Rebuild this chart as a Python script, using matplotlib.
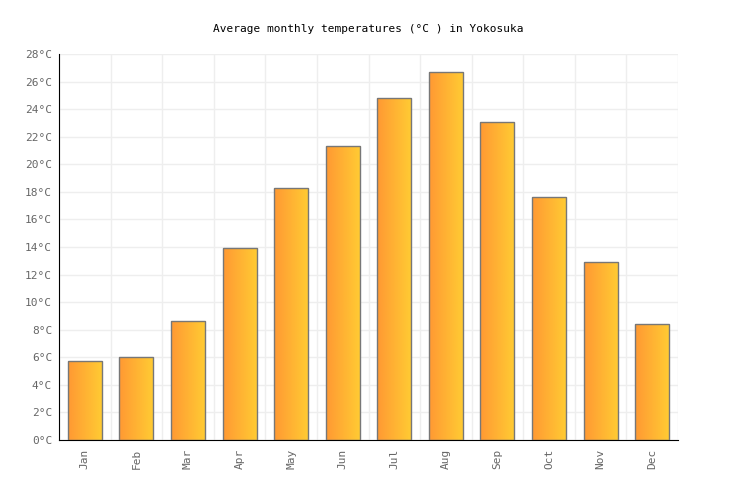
import numpy as np
import matplotlib.pyplot as plt
from matplotlib.colors import LinearSegmentedColormap

months = ["Jan", "Feb", "Mar", "Apr", "May", "Jun", "Jul", "Aug", "Sep", "Oct", "Nov", "Dec"]
temps = [5.7, 6.0, 8.6, 13.9, 18.3, 21.3, 24.8, 26.7, 23.1, 17.6, 12.9, 8.4]
yticks = list(range(0, 29, 2))
ytick_labels = [f"{t}°C" for t in yticks]

plt.rcParams['font.family'] = ['DejaVu Sans Mono', 'DejaVu Sans']

fig = plt.figure(figsize=(7.36, 5.0), dpi=100)
ax = fig.add_axes([0.0802, 0.12, 0.841, 0.772])

x = np.arange(len(months))
bars = ax.bar(x, temps, width=0.66, color='none', edgecolor='#777777', linewidth=1.0, zorder=3)

# horizontal orange -> yellow gradient inside each bar
cmap = LinearSegmentedColormap.from_list("og", ["#ff9933", "#ffcc33"])
grad = np.linspace(0, 1, 64).reshape(1, -1)
for b in bars:
    im = ax.imshow(grad, cmap=cmap, aspect='auto', zorder=2,
                   extent=[b.get_x(), b.get_x() + b.get_width(), 0, b.get_height()])
    im.set_clip_path(b)

ax.set_xlim(-0.5, len(months) - 0.5)
ax.set_ylim(0, 28)
ax.set_yticks(yticks)
ax.set_yticklabels(ytick_labels)
ax.set_xticks(x)
ax.set_xticklabels(months, rotation=90)

# grid: horizontal at ticks, vertical at category boundaries
for t in yticks:
    ax.axhline(t, color='#eeeeee', linewidth=1, zorder=1)
for k in range(len(months) + 1):
    ax.axvline(k - 0.5, color='#eeeeee', linewidth=1, zorder=1)

for s in ['top', 'right']:
    ax.spines[s].set_visible(False)
ax.spines['left'].set_color('black')
ax.spines['bottom'].set_color('black')
ax.tick_params(axis='both', colors='#666666', labelsize=8, length=0)
ax.tick_params(axis='y', pad=5)
ax.tick_params(axis='x', pad=6)

fig.text(0.5, 0.942, "Average monthly temperatures (°C ) in Yokosuka",
         ha='center', va='center', fontsize=8, color='black')

fig.savefig("out.png", dpi=100)
